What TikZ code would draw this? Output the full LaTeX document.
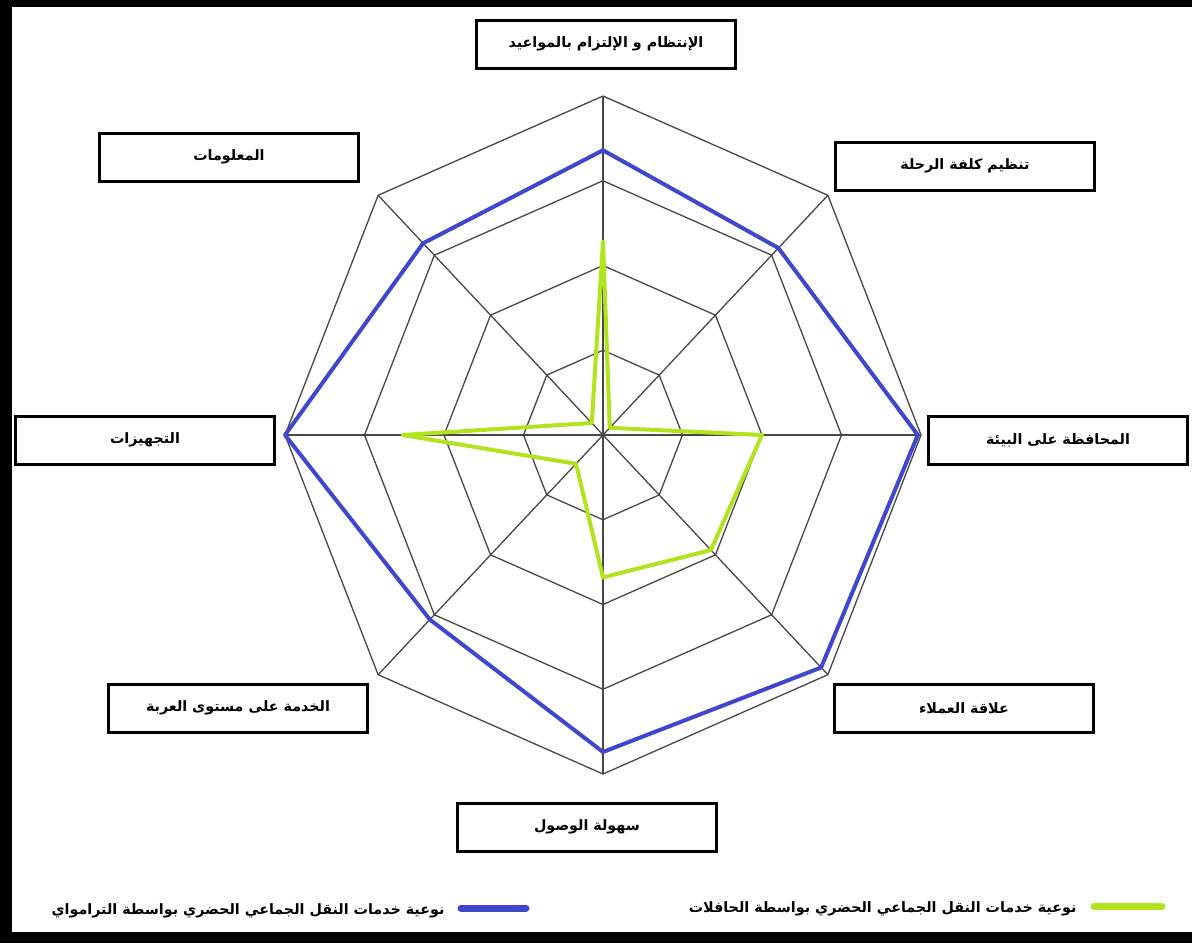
\documentclass[tikz,border=0pt]{standalone}
\usepackage{fontspec}
\newfontfamily\arabicfont[Script=Arabic]{DejaVu Sans}
\TeXXeTstate=1
\newcommand{\artxt}[1]{\arabicfont\bfseries\beginR #1\endR}
\definecolor{tramblue}{RGB}{63,72,204}
\definecolor{busgreen}{RGB}{178,228,30}

\begin{document}
\begin{tikzpicture}[x=1pt, y=-1pt, font=\fontsize{14.3}{16}\selectfont,
    axislabel/.style={draw, line width=3pt, minimum width=259pt,
                      minimum height=48pt, inner sep=0pt, fill=white},
    web/.style={draw=black!72, line width=1.3pt},
    tram/.style={draw=tramblue, line width=4pt, line join=round},
    bus/.style={draw=busgreen, line width=4pt, line join=round}]
  \useasboundingbox (0,0) rectangle (1192,943);
  \fill (0,0) rectangle (12,943);
  \fill (0,0) rectangle (1192,7);
  \fill (0,932) rectangle (1192,943);

  \coordinate (o) at (603,435);
  \begin{scope}[shift={(o)}, x=318pt, y=339pt]
    \foreach \r in {0.25,0.5,0.75,1}
      \draw[web] (90:\r) -- (45:\r) -- (0:\r) -- (-45:\r) -- (-90:\r)
        -- (-135:\r) -- (180:\r) -- (135:\r) -- cycle;
    \foreach \a in {0,45,...,315}
      \draw[web] (0,0) -- (\a:1);
    \draw[tram] (90:0.84) -- (45:0.78) -- (0:0.99) -- (-45:0.97)
      -- (-90:0.935) -- (-135:0.77) -- (180:1) -- (135:0.80) -- cycle;
    \draw[bus] (90:0.57) -- (45:0.03) -- (0:0.5) -- (-45:0.48)
      -- (-90:0.42) -- (-135:0.12) -- (180:0.63) -- (135:0.05) -- cycle;
  \end{scope}

  \node[axislabel] (punct)   at (606,44)  {\artxt{الإنتظام و الإلتزام بالمواعيد}};
  \node[axislabel] (cost)    at (965,166) {\artxt{تنظيم كلفة الرحلة}};
  \node[axislabel] (info)    at (229,157) {\artxt{المعلومات}};
  \node[axislabel] (environ) at (1058,440) {\artxt{المحافظة على البيئة}};
  \node[axislabel] (equip)   at (145,440) {\artxt{التجهيزات}};
  \node[axislabel] (clients) at (964,708) {\artxt{علاقة العملاء}};
  \node[axislabel] (onboard) at (238,708) {\artxt{الخدمة على مستوى العربة}};
  \node[axislabel] (access)  at (587,827) {\artxt{سهولة الوصول}};

  \coordinate (tramA) at (461,908);
  \coordinate (tramB) at (526,908);
  \draw[tram, line width=7pt, line cap=round] (tramA) -- (tramB);
  \node[anchor=east] (tramkey) at (448,911)
    {\artxt{نوعية خدمات النقل الجماعي الحضري بواسطة الترامواي}};
  \coordinate (busA) at (1094,906);
  \coordinate (busB) at (1162,906);
  \draw[bus, line width=7pt, line cap=round] (busA) -- (busB);
  \node[anchor=east] (buskey) at (1080,909)
    {\artxt{نوعية خدمات النقل الجماعي الحضري بواسطة الحافلات}};
\end{tikzpicture}
\end{document}
